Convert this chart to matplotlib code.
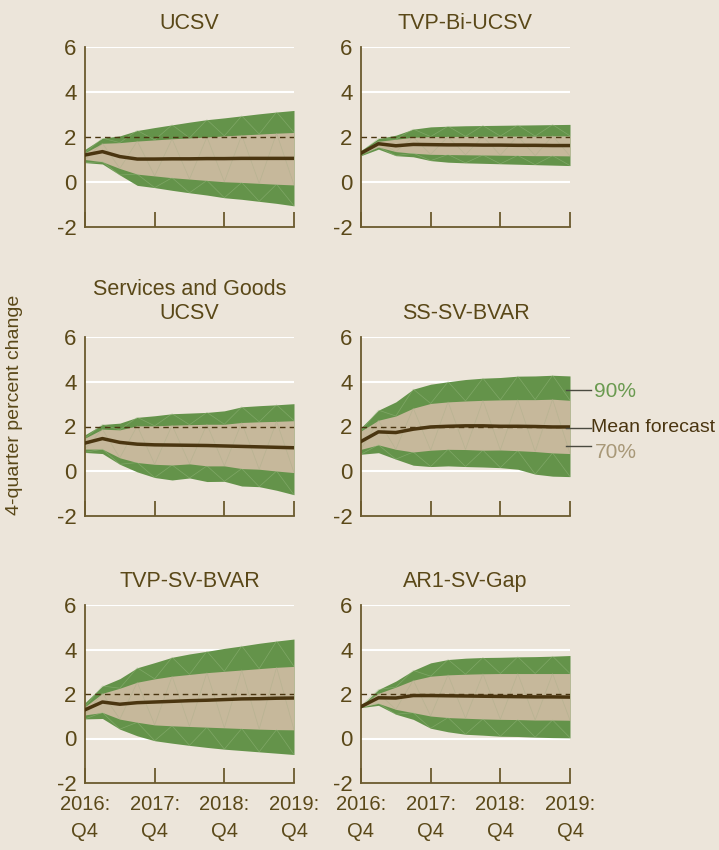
import matplotlib
matplotlib.use("Agg")
import matplotlib.pyplot as plt
import numpy as np

## Global configuration
plt.rcParams["font.family"] = ["Liberation Sans", "DejaVu Sans"]
plt.rcParams["font.size"] = 14

bg = "#ECE5DA"
green = "#64934A"
tan = "#C6B89B"
mean_col = "#4A3510"
text_col = "#5A4818"
spine_col = "#6B5A2E"

quarters = ["2016:\nQ4", "2017:\nQ4", "2018:\nQ4", "2019:\nQ4"]
tick_idx = [0, 4, 8, 12]

## Data: 13 quarters, 2016Q4 .. 2019Q4
titles = ["UCSV", "TVP-Bi-UCSV", "Services and Goods\nUCSV",
          "SS-SV-BVAR", "TVP-SV-BVAR", "AR1-SV-Gap"]

ucsv_mean = [1.2, 1.35, 1.13, 1.02, 1.02, 1.03, 1.03, 1.04, 1.04, 1.05, 1.05, 1.05, 1.05]
ucsv_hi90 = [1.45, 1.95, 2.05, 2.29, 2.42, 2.54, 2.66, 2.77, 2.85, 2.94, 3.03, 3.11, 3.18]
ucsv_lo90 = [0.86, 0.8, 0.31, -0.15, -0.25, -0.37, -0.48, -0.58, -0.7, -0.77, -0.86, -0.95, -1.06]
ucsv_hi70 = [1.3, 1.72, 1.75, 1.82, 1.87, 1.92, 1.96, 2.0, 2.05, 2.09, 2.13, 2.17, 2.2]
ucsv_lo70 = [1.0, 0.9, 0.6, 0.35, 0.27, 0.19, 0.13, 0.07, 0.01, -0.02, -0.06, -0.1, -0.13]

tvpbi_mean = [1.28, 1.7, 1.61, 1.67, 1.66, 1.65, 1.65, 1.64, 1.64, 1.63, 1.63, 1.62, 1.62]
tvpbi_hi90 = [1.4, 1.93, 2.08, 2.35, 2.45, 2.48, 2.5, 2.51, 2.52, 2.53, 2.54, 2.55, 2.56]
tvpbi_lo90 = [1.17, 1.46, 1.17, 1.12, 0.95, 0.88, 0.85, 0.83, 0.81, 0.79, 0.77, 0.75, 0.73]
tvpbi_hi70 = [1.34, 1.81, 1.9, 1.99, 2.02, 2.02, 2.03, 2.03, 2.04, 2.04, 2.04, 2.05, 2.05]
tvpbi_lo70 = [1.25, 1.55, 1.35, 1.28, 1.23, 1.22, 1.21, 1.2, 1.19, 1.18, 1.17, 1.17, 1.16]

sg_mean = [1.26, 1.46, 1.29, 1.21, 1.18, 1.17, 1.16, 1.15, 1.13, 1.11, 1.09, 1.07, 1.05]
sg_hi90 = [1.63, 2.09, 2.15, 2.41, 2.48, 2.57, 2.6, 2.63, 2.7, 2.88, 2.93, 2.97, 3.02]
sg_lo90 = [0.84, 0.79, 0.31, -0.03, -0.28, -0.39, -0.3, -0.46, -0.45, -0.66, -0.69, -0.85, -1.05]
sg_hi70 = [1.48, 1.88, 1.85, 2.03, 2.03, 2.06, 2.08, 2.1, 2.1, 2.18, 2.21, 2.23, 2.26]
sg_lo70 = [0.99, 0.99, 0.6, 0.39, 0.31, 0.28, 0.33, 0.24, 0.24, 0.12, 0.09, 0.01, -0.06]

ss_mean = [1.33, 1.76, 1.73, 1.88, 1.98, 2.01, 2.03, 2.03, 2.01, 2.01, 2.0, 1.98, 1.98]
ss_hi90 = [1.95, 2.73, 3.1, 3.67, 3.89, 4.0, 4.1, 4.16, 4.19, 4.25, 4.26, 4.29, 4.26]
ss_lo90 = [0.76, 0.83, 0.54, 0.27, 0.21, 0.24, 0.21, 0.19, 0.16, 0.09, -0.13, -0.22, -0.24]
ss_hi70 = [1.8, 2.28, 2.47, 2.82, 3.03, 3.1, 3.14, 3.17, 3.19, 3.2, 3.2, 3.22, 3.17]
ss_lo70 = [0.98, 1.18, 0.98, 0.86, 0.94, 0.98, 0.97, 0.94, 0.95, 0.92, 0.88, 0.82, 0.79]

tvpsv_mean = [1.29, 1.64, 1.54, 1.61, 1.64, 1.67, 1.7, 1.72, 1.75, 1.78, 1.79, 1.81, 1.82]
tvpsv_hi90 = [1.61, 2.36, 2.69, 3.18, 3.41, 3.65, 3.8, 3.92, 4.05, 4.16, 4.28, 4.38, 4.47]
tvpsv_lo90 = [0.88, 0.9, 0.42, 0.12, -0.1, -0.21, -0.31, -0.4, -0.48, -0.54, -0.6, -0.66, -0.72]
tvpsv_hi70 = [1.43, 2.03, 2.26, 2.53, 2.68, 2.8, 2.88, 2.96, 3.02, 3.08, 3.14, 3.2, 3.24]
tvpsv_lo70 = [1.06, 1.17, 0.87, 0.73, 0.61, 0.57, 0.54, 0.51, 0.48, 0.45, 0.42, 0.4, 0.39]

ar1_mean = [1.43, 1.83, 1.82, 1.93, 1.93, 1.92, 1.91, 1.9, 1.89, 1.88, 1.87, 1.87, 1.86]
ar1_hi90 = [1.46, 2.2, 2.58, 3.06, 3.4, 3.55, 3.61, 3.64, 3.65, 3.67, 3.68, 3.7, 3.73]
ar1_lo90 = [1.39, 1.49, 1.09, 0.86, 0.46, 0.3, 0.19, 0.15, 0.1, 0.09, 0.06, 0.04, 0.03]
ar1_hi70 = [1.46, 2.03, 2.31, 2.62, 2.8, 2.86, 2.89, 2.91, 2.92, 2.92, 2.92, 2.92, 2.92]
ar1_lo70 = [1.42, 1.58, 1.31, 1.16, 1.01, 0.94, 0.91, 0.88, 0.86, 0.85, 0.83, 0.83, 0.82]

panels = [
    (ucsv_mean, ucsv_lo90, ucsv_hi90, ucsv_lo70, ucsv_hi70),
    (tvpbi_mean, tvpbi_lo90, tvpbi_hi90, tvpbi_lo70, tvpbi_hi70),
    (sg_mean, sg_lo90, sg_hi90, sg_lo70, sg_hi70),
    (ss_mean, ss_lo90, ss_hi90, ss_lo70, ss_hi70),
    (tvpsv_mean, tvpsv_lo90, tvpsv_hi90, tvpsv_lo70, tvpsv_hi70),
    (ar1_mean, ar1_lo90, ar1_hi90, ar1_lo70, ar1_hi70),
]

W, H = 719, 850
# axes boxes in pixels: left, right, top, bottom
cols = [(85, 294), (361, 570)]
rows = [(47, 227), (337, 516), (605, 783)]


def seams(ax, x, lo, hi, col):
    # faint triangulation seams seen inside the bands
    xs, ys = [], []
    for i in range(len(x)):
        xs.append(x[i])
        ys.append(hi[i] if i % 2 else lo[i])
    ax.plot(xs, ys, color=col, lw=0.5, alpha=0.5, zorder=2)


fig = plt.figure(figsize=(W / 100, H / 100), dpi=100)
fig.patch.set_facecolor(bg)

x = np.arange(13)
for k, (mean, lo90, hi90, lo70, hi70) in enumerate(panels):
    r, c = divmod(k, 2)
    l, rr = cols[c]
    t, b = rows[r]
    ax = fig.add_axes([l / W, 1 - b / H, (rr - l) / W, (b - t) / H])
    ax.set_facecolor(bg)
    for yv in [0, 4, 6]:
        ax.axhline(yv, color="white", lw=1.5, zorder=0)
    ax.fill_between(x, lo90, hi90, color=green, lw=0, zorder=1)
    ax.fill_between(x, lo70, hi70, color=tan, lw=0, zorder=1.5)
    seams(ax, x, np.array(hi70), np.array(hi90), "#9CBC84")
    seams(ax, x, np.array(lo90), np.array(lo70), "#9CBC84")
    seams(ax, x, np.array(lo70), np.array(hi70), "#A9AE88")
    ax.axhline(2, color=mean_col, lw=1, ls=(0, (4, 3)), zorder=3)
    ax.plot(x, mean, color=mean_col, lw=2.5, zorder=4)

    ax.set_xlim(0, 12)
    ax.set_ylim(-2, 6)
    ax.set_yticks([-2, 0, 2, 4, 6])
    ax.set_yticklabels(["-2", "0", "2", "4", "6"])
    ax.set_xticks(tick_idx)
    if r == 2:
        ax.set_xticklabels(quarters, linespacing=1.5)
    else:
        ax.set_xticklabels([])
    ax.tick_params(axis="y", length=0, pad=6, labelsize=16, colors=text_col)
    ax.tick_params(axis="x", direction="in", length=11, width=1.3,
                   color=spine_col, labelcolor=text_col, labelsize=14.5, pad=9)
    for s in ["top", "right"]:
        ax.spines[s].set_visible(False)
    for s in ["left", "bottom"]:
        ax.spines[s].set_color(spine_col)
        ax.spines[s].set_linewidth(1.3)
    ax.set_title(titles[k], color=text_col, fontsize=15.5, pad=13, linespacing=1.2)

    if k == 3:
        ann = "#4A4A40"
        ax.plot([11.75, 13.2], [3.62, 3.62], color=ann, lw=1, clip_on=False, zorder=5)
        ax.plot([11.75, 13.2], [1.95, 1.95], color=ann, lw=1, clip_on=False, zorder=5)
        ax.plot([11.75, 13.2], [1.13, 1.13], color=ann, lw=1, clip_on=False, zorder=5)
        ax.text(13.4, 3.56, "90%", color="#6A9A50", fontsize=15, va="center", clip_on=False)
        ax.text(13.2, 1.95, "Mean forecast", color=mean_col, fontsize=14, va="center", clip_on=False)
        ax.text(13.4, 0.83, "70%", color="#A89878", fontsize=15, va="center", clip_on=False)

fig.text(15 / W, 1 - 405 / H, "4-quarter percent change", rotation=90,
         ha="center", va="center", color=text_col, fontsize=14)

fig.savefig("out.png", dpi=100, facecolor=bg)
